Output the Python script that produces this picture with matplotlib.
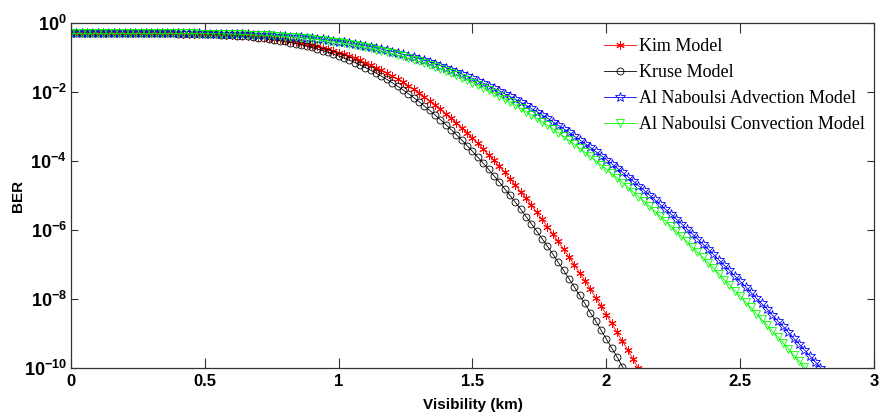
import numpy as np
import matplotlib
matplotlib.use('Agg')
import matplotlib.pyplot as plt
from matplotlib.ticker import FixedLocator, FixedFormatter, NullLocator

plt.rcParams['font.family'] = ['Liberation Sans', 'DejaVu Sans']
plt.rcParams['mathtext.fontset'] = 'custom'
plt.rcParams['mathtext.rm'] = 'Liberation Sans:bold'
plt.rcParams['mathtext.bf'] = 'Liberation Sans:bold'

# ---------------- data ----------------
# visibility grid in km, sampled every 0.02 km
visibility_km = np.round(np.arange(0, 145) * 0.02, 2)

kim_ber = [
    0.5, 0.5, 0.5, 0.5, 0.5, 0.5, 0.5, 0.5, 0.5, 0.5,
    0.5, 0.5, 0.5, 0.5, 0.5, 0.5, 0.4996, 0.4993, 0.4989, 0.4982,
    0.4972, 0.4958, 0.4939, 0.4915, 0.4885, 0.4848, 0.4804, 0.4751, 0.4689, 0.4618,
    0.4537, 0.4446, 0.4346, 0.4235, 0.4114, 0.3982, 0.384, 0.3692, 0.3534, 0.3369,
    0.3195, 0.3015, 0.2834, 0.2647, 0.246, 0.2273, 0.2087, 0.1908, 0.1729, 0.1555,
    0.1393, 0.1233, 0.1085, 0.0948, 0.0822, 0.0706, 0.0601, 0.0509, 0.0426, 0.0352,
    0.0290, 0.0236, 0.0191, 0.0152, 0.0120, 9.40e-3, 7.30e-3, 5.58e-3, 4.23e-3, 3.21e-3,
    2.37e-3, 1.74e-3, 1.27e-3, 9.23e-4, 6.59e-4, 4.61e-4, 3.24e-4, 2.23e-4, 1.52e-4, 1.04e-4,
    7.00e-5, 4.66e-5, 3.08e-5, 2.00e-5, 1.29e-5, 8.30e-6, 5.26e-6, 3.25e-6, 2.02e-6, 1.26e-6,
    7.66e-7, 4.69e-7, 2.82e-7, 1.66e-7, 9.84e-8, 5.77e-8, 3.38e-8, 1.95e-8, 1.09e-8, 6.27e-9,
    3.54e-9, 1.95e-9, 1.09e-9, 6.00e-10, 3.37e-10, 1.78e-10, 9.68e-11, 5.14e-11,
]

kruse_ber = [
    0.5, 0.5, 0.5, 0.5, 0.5, 0.5, 0.5, 0.5, 0.5, 0.5,
    0.5, 0.5, 0.5, 0.5, 0.5, 0.5, 0.4995, 0.499, 0.4984, 0.4974,
    0.496, 0.4941, 0.4917, 0.4886, 0.4848, 0.4801, 0.4746, 0.4681, 0.4606, 0.452,
    0.4424, 0.4317, 0.420, 0.407, 0.393, 0.378, 0.362, 0.346, 0.328, 0.310,
    0.2915, 0.272, 0.2533, 0.234, 0.2145, 0.196, 0.177, 0.1594, 0.1423, 0.126,
    0.1106, 0.0964, 0.0833, 0.0715, 0.0606, 0.0509, 0.0424, 0.0351, 0.0287, 0.0232,
    0.0186, 0.0147, 0.0116, 0.0090, 0.0069, 5.27e-3, 3.94e-3, 2.94e-3, 2.17e-3, 1.58e-3,
    1.14e-3, 8.18e-4, 5.74e-4, 4.04e-4, 2.78e-4, 1.89e-4, 1.29e-4, 8.65e-5, 5.73e-5, 3.76e-5,
    2.47e-5, 1.57e-5, 1.00e-5, 6.43e-6, 4.02e-6, 2.45e-6, 1.51e-6, 9.29e-7, 5.60e-7, 3.38e-7,
    2.01e-7, 1.16e-7, 6.81e-8, 3.91e-8, 2.26e-8, 1.29e-8, 7.41e-9, 4.06e-9, 2.33e-9, 1.26e-9,
    6.97e-10, 3.77e-10, 2.09e-10, 1.10e-10, 5.83e-11,
]

advection_ber = [
    0.5, 0.5, 0.5, 0.5, 0.5, 0.5, 0.5, 0.5, 0.5, 0.5,
    0.5, 0.5, 0.5, 0.5, 0.5, 0.5, 0.5, 0.5, 0.5, 0.4996,
    0.4993, 0.4988, 0.4982, 0.4975, 0.4964, 0.4951, 0.4934, 0.4913, 0.4889, 0.4859,
    0.4825, 0.4785, 0.474, 0.4689, 0.4631, 0.4568, 0.4498, 0.4422, 0.4339, 0.425,
    0.4154, 0.4052, 0.3944, 0.383, 0.371, 0.3587, 0.3457, 0.3325, 0.3185, 0.3046,
    0.290, 0.2756, 0.2611, 0.2467, 0.2321, 0.2177, 0.2033, 0.189, 0.1754, 0.1618,
    0.149, 0.1368, 0.1245, 0.1131, 0.1021, 0.0920, 0.0824, 0.0736, 0.0654, 0.0578,
    0.0508, 0.0445, 0.0387, 0.0337, 0.0290, 0.0248, 0.0213, 0.0181, 0.0153, 0.0129,
    0.0108, 8.97e-3, 7.45e-3, 6.14e-3, 5.04e-3, 4.10e-3, 3.33e-3, 2.70e-3, 2.17e-3, 1.74e-3,
    1.38e-3, 1.10e-3, 8.65e-4, 6.79e-4, 5.30e-4, 4.12e-4, 3.20e-4, 2.48e-4, 1.89e-4, 1.44e-4,
    1.10e-4, 8.28e-5, 6.30e-5, 4.73e-5, 3.52e-5, 2.64e-5, 1.93e-5, 1.44e-5, 1.04e-5, 7.67e-6,
    5.58e-6, 4.09e-6, 2.93e-6, 2.11e-6, 1.54e-6, 1.09e-6, 7.85e-7, 5.60e-7, 3.94e-7, 2.82e-7,
    1.96e-7, 1.37e-7, 9.60e-8, 6.81e-8, 4.67e-8, 3.27e-8, 2.26e-8, 1.56e-8, 1.06e-8, 7.41e-9,
    5.13e-9, 3.42e-9, 2.33e-9, 1.63e-9, 1.09e-9, 7.23e-10, 4.98e-10, 3.37e-10, 2.27e-10, 1.52e-10,
    1.01e-10, 6.87e-11,
]

convection_ber = [
    0.5, 0.5, 0.5, 0.5, 0.5, 0.5, 0.5, 0.5, 0.5, 0.5,
    0.5, 0.5, 0.5, 0.5, 0.5, 0.5, 0.5, 0.5, 0.5, 0.4994,
    0.4991, 0.4985, 0.4978, 0.4969, 0.4956, 0.494, 0.4921, 0.4897, 0.4868, 0.4834,
    0.4795, 0.475, 0.4699, 0.4641, 0.4577, 0.4507, 0.4429, 0.4344, 0.4253, 0.4155,
    0.405, 0.394, 0.3823, 0.370, 0.3572, 0.3438, 0.3303, 0.316, 0.3018, 0.2871,
    0.2722, 0.2573, 0.2426, 0.2276, 0.2128, 0.1982, 0.1841, 0.1701, 0.1567, 0.1435,
    0.1306, 0.1189, 0.1074, 0.0968, 0.0867, 0.0773, 0.0685, 0.0605, 0.0533, 0.0466,
    0.0406, 0.0352, 0.0301, 0.0259, 0.0221, 0.0188, 0.0158, 0.0133, 0.0111, 9.23e-3,
    7.60e-3, 6.27e-3, 5.11e-3, 4.16e-3, 3.37e-3, 2.70e-3, 2.17e-3, 1.73e-3, 1.37e-3, 1.09e-3,
    8.55e-4, 6.65e-4, 5.16e-4, 3.99e-4, 3.08e-4, 2.36e-4, 1.79e-4, 1.36e-4, 1.04e-4, 7.80e-5,
    5.82e-5, 4.37e-5, 3.24e-5, 2.38e-5, 1.76e-5, 1.29e-5, 9.33e-6, 6.82e-6, 4.95e-6, 3.54e-6,
    2.56e-6, 1.84e-6, 1.32e-6, 9.29e-7, 6.61e-7, 4.69e-7, 3.30e-7, 2.29e-7, 1.62e-7, 1.13e-7,
    7.85e-8, 5.42e-8, 3.67e-8, 2.56e-8, 1.76e-8, 1.21e-8, 8.18e-9, 5.68e-9, 3.78e-9, 2.58e-9,
    1.75e-9, 1.17e-9, 8.09e-10, 5.36e-10, 3.63e-10, 2.36e-10, 1.59e-10, 1.05e-10, 7.19e-11,
]

series_labels = ['Kim Model', 'Kruse Model', 'Al Naboulsi Advection Model',
                 'Al Naboulsi Convection Model']
x_ticks = [0, 0.5, 1, 1.5, 2, 2.5, 3]
x_tick_labels = ['0', '0.5', '1', '1.5', '2', '2.5', '3']
y_ticks = [1e0, 1e-2, 1e-4, 1e-6, 1e-8, 1e-10]
y_tick_labels = [r'$\mathbf{10^{0}}$', r'$\mathbf{10^{-2}}$', r'$\mathbf{10^{-4}}$',
                 r'$\mathbf{10^{-6}}$', r'$\mathbf{10^{-8}}$', r'$\mathbf{10^{-10}}$']

# ---------------- figure ----------------
W, H = 881, 416
fig = plt.figure(figsize=(W / 100, H / 100), dpi=100)
ax = fig.add_axes([71 / W, 1 - 368 / H, (874 - 71) / W, (368 - 23) / H])

ax.plot(visibility_km[:len(kim_ber)], kim_ber, color='red', lw=0.6,
        marker=(6, 2, 0), ms=6, mew=0.7, label=series_labels[0])
ax.plot(visibility_km[:len(kruse_ber)], kruse_ber, color='black', lw=0.6,
        marker='o', mfc='none', ms=5, mew=0.6, label=series_labels[1])
ax.plot(visibility_km[:len(advection_ber)], advection_ber, color='blue', lw=0.6,
        marker='*', mfc='none', ms=7, mew=0.6, label=series_labels[2])
ax.plot(visibility_km[:len(convection_ber)], convection_ber, color=(0, 1, 0), lw=0.6,
        marker='v', mfc='none', ms=6, mew=0.6, label=series_labels[3])

ax.set_yscale('log')
ax.set_xlim(0, 3)
ax.set_ylim(1e-10, 1)

ax.xaxis.set_major_locator(FixedLocator(x_ticks))
ax.xaxis.set_major_formatter(FixedFormatter(x_tick_labels))
ax.xaxis.set_minor_locator(NullLocator())
ax.yaxis.set_major_locator(FixedLocator(y_ticks))
ax.yaxis.set_major_formatter(FixedFormatter(y_tick_labels))
ax.yaxis.set_minor_locator(NullLocator())

ax.tick_params(axis='both', which='major', direction='in', top=True, right=True,
               width=0.8, color='#333333')
ax.tick_params(axis='x', length=7, pad=4)
ax.tick_params(axis='y', length=5, pad=3)
for lab in ax.get_xticklabels():
    lab.set_fontweight('bold')
    lab.set_fontsize(12)
for lab in ax.get_yticklabels():
    lab.set_fontsize(13)
for sp in ax.spines.values():
    sp.set_linewidth(0.9)
    sp.set_color('#333333')

ax.set_xlabel('Visibility (km)', fontsize=11, fontweight='bold')
ax.xaxis.set_label_coords(0.5, -(405 - 368) / (368 - 23), transform=ax.transAxes)
ax.set_ylabel('BER', fontsize=11, fontweight='bold')
ax.yaxis.set_label_coords(-(71 - 18) / (874 - 71), 0.5, transform=ax.transAxes)
ax.xaxis.label.set_va('center')
ax.yaxis.label.set_va('center')

leg = ax.legend(loc='upper left', bbox_to_anchor=(604 / W, 1 - 38 / H),
                bbox_transform=fig.transFigure, frameon=False,
                prop={'family': 'Liberation Serif', 'size': 13},
                handlelength=1.75, handletextpad=0.2, labelspacing=0.5,
                borderpad=0, borderaxespad=0)

fig.savefig('out.png', dpi=100)
